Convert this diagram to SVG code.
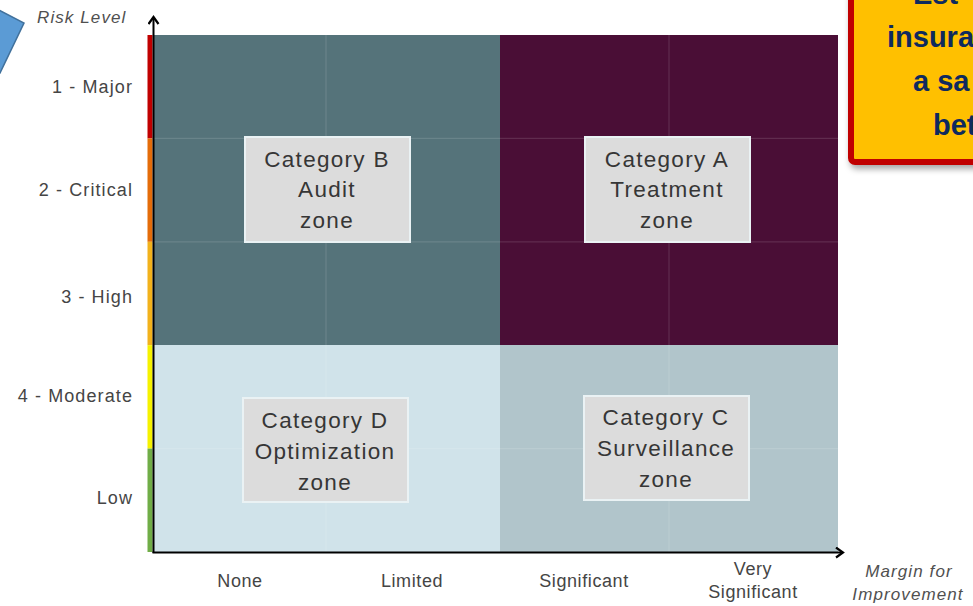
<svg xmlns="http://www.w3.org/2000/svg" width="973" height="606" viewBox="0 0 973 606">
<style>
.lbl{font-family:"Liberation Sans",Arial,sans-serif;font-size:18px;fill:#454545;letter-spacing:0.6px}
.row{letter-spacing:1.1px}
.ital{font-family:"Liberation Sans",Arial,sans-serif;font-size:17px;font-style:italic;fill:#505050;letter-spacing:1.1px}
.cat rect{fill:#DCDCDC;stroke:#EAF2F4;stroke-width:2}
.cat text{font-family:"Liberation Sans",Arial,sans-serif;font-size:22.5px;fill:#363636;text-anchor:middle;letter-spacing:1.3px}
.grid{stroke:#ffffff;stroke-opacity:0.12;stroke-width:1.2}
.call{font-family:"Liberation Sans",Arial,sans-serif;font-size:29px;font-weight:bold;fill:#0E2A5E}
</style>
<defs>
<marker id="arr" viewBox="0 0 12 12" refX="10" refY="6" markerWidth="12" markerHeight="12" markerUnits="userSpaceOnUse" orient="auto">
<path d="M3,1 L10,6 L3,11" fill="none" stroke="#000" stroke-width="2.2"/>
</marker>
<filter id="sh" x="-20%" y="-20%" width="140%" height="140%">
<feDropShadow dx="2" dy="4" stdDeviation="3" flood-color="#000" flood-opacity="0.35"/>
</filter>
</defs>
<rect width="973" height="606" fill="#ffffff"/>

<g id="quadrants">
<rect x="154" y="35" width="346" height="310" fill="#55737A"/>
<rect x="500" y="35" width="338" height="310" fill="#4A0E36"/>
<rect x="154" y="345" width="346" height="207" fill="#D0E3EA"/>
<rect x="500" y="345" width="338" height="207" fill="#B1C5CB"/>
<line class="grid" x1="154" y1="138.4" x2="838" y2="138.4"/>
<line class="grid" x1="154" y1="241.8" x2="838" y2="241.8"/>
<line class="grid" x1="154" y1="448.6" x2="838" y2="448.6"/>
<line class="grid" x1="326" y1="35" x2="326" y2="552"/>
<line class="grid" x1="669" y1="35" x2="669" y2="552"/>
</g>

<g id="riskbar">
<rect x="147.5" y="35" width="5" height="103.4" fill="#C00000"/>
<rect x="147.5" y="138.4" width="5" height="103.4" fill="#E46C0A"/>
<rect x="147.5" y="241.8" width="5" height="103.4" fill="#F2B21C"/>
<rect x="147.5" y="345.2" width="5" height="103.4" fill="#F5F200"/>
<rect x="147.5" y="448.6" width="5" height="103.4" fill="#70AD47"/>
</g>

<g id="connectors">
<line x1="153.5" y1="553" x2="153.5" y2="17" stroke="#000" stroke-width="2" marker-end="url(#arr)"/>
<line x1="152.5" y1="552.5" x2="843" y2="552.5" stroke="#000" stroke-width="2" marker-end="url(#arr)"/>
</g>

<g id="axis-labels">
<text class="ital" x="37" y="23">Risk Level</text>
<text class="lbl row" x="133" y="93" text-anchor="end">1 - Major</text>
<text class="lbl row" x="133" y="196" text-anchor="end">2 - Critical</text>
<text class="lbl row" x="133" y="303" text-anchor="end">3 - High</text>
<text class="lbl row" x="133" y="402" text-anchor="end">4 - Moderate</text>
<text class="lbl row" x="133" y="504" text-anchor="end">Low</text>
<text class="lbl" x="240" y="587" text-anchor="middle">None</text>
<text class="lbl" x="412" y="587" text-anchor="middle">Limited</text>
<text class="lbl" x="584" y="587" text-anchor="middle">Significant</text>
<text class="lbl" x="753" y="575" text-anchor="middle">Very</text>
<text class="lbl" x="753" y="598" text-anchor="middle">Significant</text>
<text class="ital" x="909" y="577" text-anchor="middle">Margin for</text>
<text class="ital" x="908" y="600" text-anchor="middle">Improvement</text>
</g>

<g id="catB" class="cat">
<rect x="245" y="137" width="165" height="105"/>
<text x="327" y="167">Category B</text>
<text x="327" y="197">Audit</text>
<text x="327" y="228">zone</text>
</g>
<g id="catA" class="cat">
<rect x="585" y="137" width="165" height="105"/>
<text x="667" y="167">Category A</text>
<text x="667" y="197">Treatment</text>
<text x="667" y="228">zone</text>
</g>
<g id="catD" class="cat">
<rect x="243" y="398" width="165" height="104"/>
<text x="325" y="428">Category D</text>
<text x="325" y="459">Optimization</text>
<text x="325" y="490">zone</text>
</g>
<g id="catC" class="cat">
<rect x="584" y="396" width="165" height="104"/>
<text x="666" y="425">Category C</text>
<text x="666" y="456">Surveillance</text>
<text x="666" y="487">zone</text>
</g>

<g id="blueshape">
<polygon points="-30,-5 24,23 0,73 -30,60" fill="#5B9BD5" stroke="#41719C" stroke-width="1.5"/>
</g>

<g id="callout">
<rect x="851" y="-20" width="140" height="182" rx="4" fill="#FFC000" stroke="#C00000" stroke-width="6" filter="url(#sh)"/>
<text class="call" x="913" y="4">Est</text>
<text class="call" x="887" y="47">insura</text>
<text class="call" x="913" y="91">a sa</text>
<text class="call" x="933" y="135">bet</text>
</g>
</svg>
